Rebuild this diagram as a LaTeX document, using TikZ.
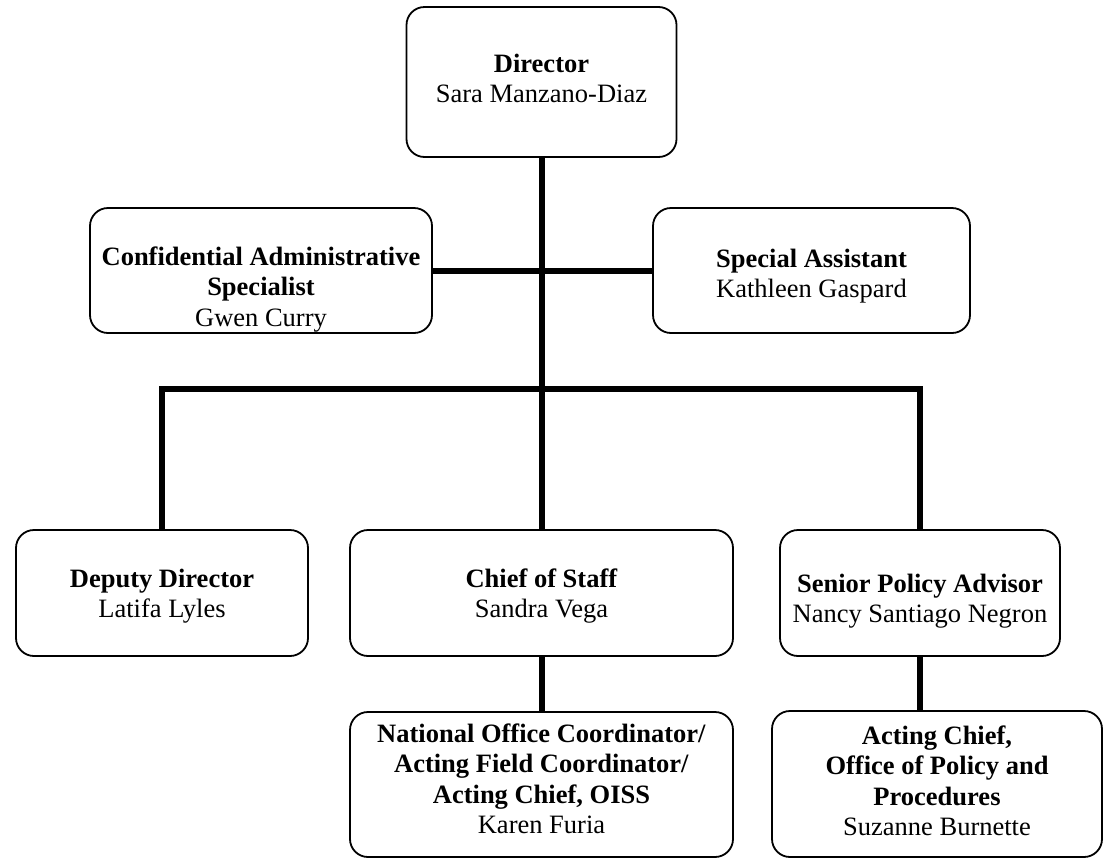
\documentclass[tikz,border=0pt]{standalone}
\usepackage{fontspec}
\setmainfont{Liberation Serif}
\newcommand\tp{\rule{0pt}{19pt}}
\tikzset{
  box/.style={draw, line width=1.8pt, rounded corners=18pt, inner sep=0pt},
  txt/.style={align=center, inner sep=0pt, anchor=north, font=\fontsize{26.5}{30.5}\selectfont},
  conn/.style={line width=6pt}
}
\begin{document}
\begin{tikzpicture}[x=1pt,y=-1pt]
\useasboundingbox (0,0) rectangle (1104,860);
% text first
\node[txt] (tdir) at (541.5,53) {\tp\textbf{Director}\\Sara Manzano-Diaz};
\node[txt] (tconf) at (261,246) {\tp\textbf{Confidential Administrative}\\\textbf{Specialist}\\Gwen Curry};
\node[txt] (tspec) at (811.5,248) {\tp\textbf{Special Assistant}\\Kathleen Gaspard};
\node[txt] (tdep) at (162,568) {\tp\textbf{Deputy Director}\\Latifa Lyles};
\node[txt] (tcos) at (541.5,568) {\tp\textbf{Chief of Staff}\\Sandra Vega};
\node[txt] (tspa) at (920,573) {\tp\textbf{Senior Policy Advisor}\\Nancy Santiago Negron};
\node[txt] (tnat) at (541.5,723) {\tp\textbf{National Office Coordinator/}\\\textbf{Acting Field Coordinator/}\\\textbf{Acting Chief, OISS}\\Karen Furia};
\node[txt] (tact) at (937,725) {\tp\textbf{Acting Chief,}\\\textbf{Office of Policy and}\\\textbf{Procedures}\\Suzanne Burnette};
% boxes
\node[box, minimum width=270pt, minimum height=150pt] (dir) at (541.5,82) {};
\node[box, minimum width=342pt, minimum height=125pt] (conf) at (261,270.5) {};
\node[box, minimum width=317pt, minimum height=125pt] (spec) at (811.5,270.5) {};
\node[box, minimum width=292pt, minimum height=126pt] (dep) at (162,593) {};
\node[box, minimum width=383pt, minimum height=126pt] (cos) at (541.5,593) {};
\node[box, minimum width=280pt, minimum height=126pt] (spa) at (920,593) {};
\node[box, minimum width=383pt, minimum height=145pt] (nat) at (541.5,784.5) {};
\node[box, minimum width=330pt, minimum height=146pt] (act) at (937,784) {};
% connectors
\coordinate (bus) at (541.5,389);
\draw[conn] (dir.south) -- (cos.north);
\draw[conn] (conf.east) -- (spec.west);
\draw[conn] (dep.north) |- (bus) -| (spa.north);
\draw[conn] (cos.south) -- (nat.north);
\draw[conn] (spa.south) -- (spa.south |- act.north);
\end{tikzpicture}
\end{document}
